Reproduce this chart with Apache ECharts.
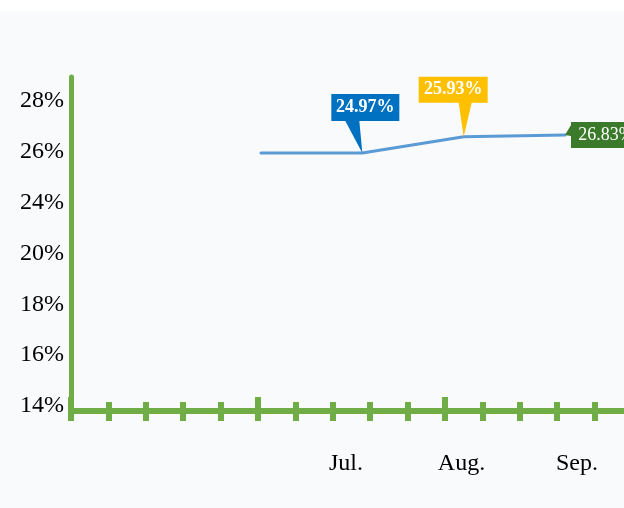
<!DOCTYPE html>
<html>
<head>
<meta charset="utf-8">
<script src="https://cdn.jsdelivr.net/npm/echarts@6/dist/echarts.min.js"></script>
<style>
  html, body { margin: 0; padding: 0; background: #fff; overflow: hidden; }
  /* 画布比窗口宽一点，让横轴刻度延伸到右边界之外 */
  #chart { width: 640px; height: 508px; }
</style>
</head>
<body>
<div id="chart"></div>
<script>
// 折线数据（按图上位置读出）
var months = ['Jun.', 'Jul.', 'Aug.', 'Sep.'];
var lineValues = [25.7, 25.7, 26.4, 26.48];

// 标注
var calloutMonths = ['Jul.', 'Aug.', 'Sep.'];
var calloutTexts = ['24.97%', '25.93%', '26.83%'];

// 坐标轴文字
var yLabels = ['14%', '16%', '18%', '20%', '24%', '26%', '28%'];
var xLabels = ['Jul.', 'Aug.', 'Sep.'];
var tickSlots = ['', '', '', '', '', '', '', '', '', '', '', '', '', '', '', ''];

var GREEN = '#70ad47';
var SERIF = '"Liberation Serif", "Times New Roman", serif';

// 标注框样式（框 + 尖角）
var calloutStyles = [
  { path: 'path://M0 0H68V27H28L31 59L14 27H0Z', size: [68, 59], offset: [3, -29.5], textOffset: [0, -16], color: '#0070c0', weight: 'bold' },
  { path: 'path://M0 0H69V26H53L45 60L40 26H0Z', size: [69, 60], offset: [-10.5, -30], textOffset: [0, -17], color: '#ffc000', weight: 'bold' },
  { path: 'path://M6 0H76V26H6V14L0 13L6 3Z', size: [76, 26], offset: [38, 0], textOffset: [3, 0], color: '#3b7a2a', weight: 'normal' }
];

var markData = calloutMonths.map(function (m, i) {
  var s = calloutStyles[i];
  return {
    coord: [m, lineValues[months.indexOf(m)]],
    symbol: s.path,
    symbolSize: s.size,
    symbolOffset: s.offset,
    itemStyle: { color: s.color },
    label: {
      show: true,
      position: 'inside',
      offset: s.textOffset,
      formatter: calloutTexts[i],
      color: '#fff',
      fontSize: 18,
      fontWeight: s.weight,
      fontFamily: SERIF
    }
  };
});

var chart = echarts.init(document.getElementById('chart'));

chart.setOption({
  animation: false,
  backgroundColor: '#f8fafc',
  graphic: [{
    type: 'rect',
    shape: { x: 0, y: 0, width: 640, height: 11 },
    style: { fill: '#fff' },
    silent: true
  }],
  grid: [
    { left: 71, top: 77, right: 8, bottom: 97 },
    { left: 261, top: 100, right: 75, bottom: 316 },
    { left: 71, top: 101, right: 0, bottom: 102 },
    { left: 346, top: 400, right: 63, bottom: 68 }
  ],
  xAxis: [
    {
      gridIndex: 0, type: 'category', data: tickSlots, boundaryGap: false, position: 'bottom',
      axisLine: { lineStyle: { color: GREEN, width: 6 } },
      axisTick: { show: true, interval: 0, length: 10, lineStyle: { color: GREEN, width: 6 } },
      axisLabel: { show: false }
    },
    {
      gridIndex: 0, type: 'category', data: tickSlots, boundaryGap: false, position: 'bottom',
      axisLine: { show: false },
      axisTick: { show: true, inside: true, interval: 0, length: 9, lineStyle: { color: GREEN, width: 6 } },
      axisLabel: { show: false }
    },
    {
      gridIndex: 0, type: 'category', data: tickSlots, boundaryGap: false, position: 'bottom',
      axisLine: { show: false },
      axisTick: { show: true, inside: true, interval: 4, length: 14, lineStyle: { color: GREEN, width: 6 } },
      axisLabel: { show: false }
    },
    { gridIndex: 1, type: 'category', data: months, boundaryGap: false, show: false },
    { gridIndex: 2, type: 'value', min: 0, max: 1, show: false },
    {
      gridIndex: 3, type: 'category', data: xLabels, boundaryGap: false,
      axisLine: { show: false },
      axisTick: { show: false },
      axisLabel: { margin: 12, fontSize: 24, color: '#000', fontFamily: SERIF }
    }
  ],
  yAxis: [
    {
      gridIndex: 0, type: 'value', min: 0, max: 1,
      axisLine: { show: true, lineStyle: { color: GREEN, width: 5 } },
      axisTick: { show: false },
      axisLabel: { show: false },
      splitLine: { show: false }
    },
    { gridIndex: 1, type: 'value', min: 24, max: 28, show: false },
    {
      gridIndex: 2, type: 'category', data: yLabels, boundaryGap: false,
      axisLine: { show: false },
      axisTick: { show: false },
      splitLine: { show: false },
      axisLabel: { margin: 7, fontSize: 24, color: '#000', fontFamily: SERIF }
    },
    { gridIndex: 3, type: 'value', min: 0, max: 1, show: false }
  ],
  series: [{
    type: 'line',
    xAxisIndex: 3,
    yAxisIndex: 1,
    data: lineValues,
    symbol: 'none',
    lineStyle: { color: '#5b9bd5', width: 3, cap: 'round', join: 'round' },
    markPoint: {
      silent: true,
      data: markData
    }
  }]
});
</script>
</body>
</html>
